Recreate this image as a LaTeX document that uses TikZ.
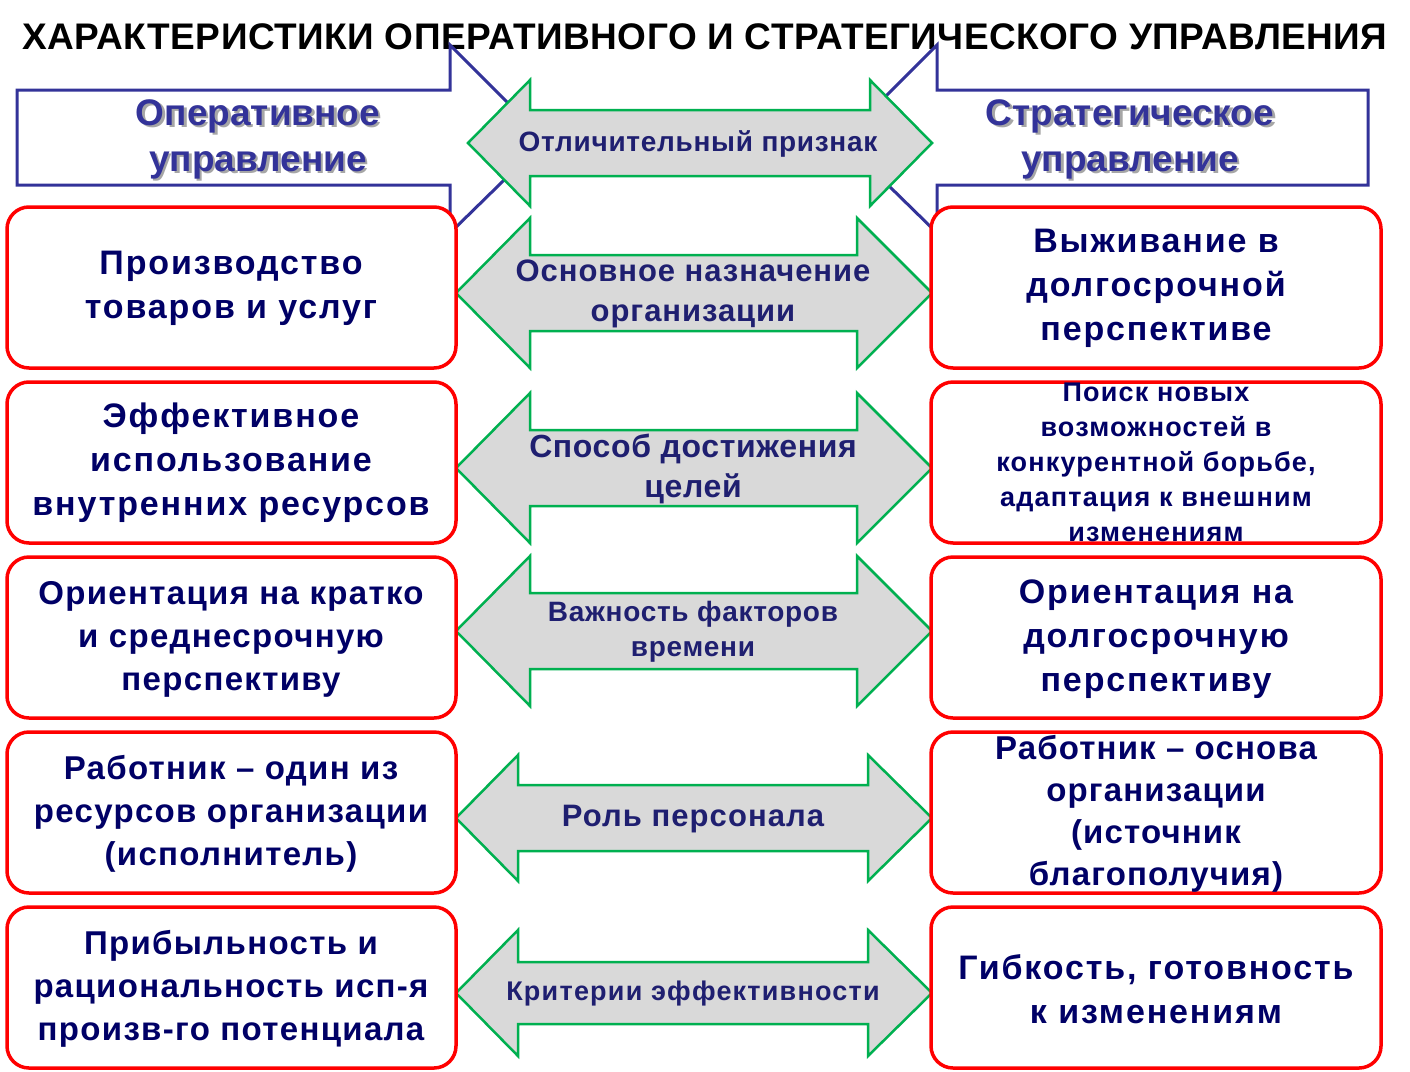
\documentclass[tikz,border=0pt]{standalone}
\usepackage{fontspec}
\setmainfont{Liberation Sans}
\definecolor{gr}{HTML}{00B050}
\definecolor{gf}{HTML}{D9D9D9}
\definecolor{bl}{HTML}{333399}
\definecolor{nv}{HTML}{000066}
\definecolor{tn}{HTML}{1F1F70}
\newcommand{\fs}[3]{\bfseries\fontsize{#1}{#2}\selectfont\addfontfeature{LetterSpace=#3}}
\tikzset{
 rbox/.style={draw=red,line width=3.5pt,rounded corners=22pt,fill=white},
 garr/.style={draw=gr,line width=2.5pt,fill=gf,line join=miter},
 barr/.style={draw=bl,line width=3pt,fill=white,line join=miter},
 btxt/.style={text=nv,font=\fs{34}{44}{5.5},align=center},
 stxt/.style={text=nv,font=\fs{27}{35}{4.5},align=center},
 gtxt/.style={text=tn,align=center},
 htxt/.style={text=bl,font=\bfseries\fontsize{37}{46}\selectfont,align=center}
}
\newcommand{\garrowx}[8]{% name, yc, hh, hb, xl, bl, br, xr
 \draw[garr] (#5,#2) -- (#6,#2-#3) -- (#6,#2-#4) -- (#7,#2-#4) -- (#7,#2-#3) -- (#8,#2)
  -- (#7,#2+#3) -- (#7,#2+#4) -- (#6,#2+#4) -- (#6,#2+#3) -- cycle;
 \coordinate (#1) at ({(#5+#8)/2},#2);}
\begin{document}
\begin{tikzpicture}[x=1pt,y=-1pt]
\useasboundingbox (0,0) rectangle (1410,1071);
\fill[white] (0,0) rectangle (1410,1071);
\node[font=\fs{37}{40}{1.2}] (title) at (705,37) {ХАРАКТЕРИСТИКИ ОПЕРАТИВНОГО И СТРАТЕГИЧЕСКОГО УПРАВЛЕНИЯ};
% blue arrows
\draw[barr] (17,90) -- (450,90) -- (450,45) -- (545,140) -- (450,233) -- (450,185) -- (17,185) -- cycle;
\draw[barr] (1368,90) -- (937,90) -- (937,45) -- (842,140) -- (937,233) -- (937,185) -- (1368,185) -- cycle;
\node[htxt,text=gray!70] at (260.5,141.5) {Оперативное\\управление};
\node[htxt] (hl) at (258,139) {Оперативное\\управление};
\node[htxt,text=gray!70] at (1132.5,141.5) {Стратегическое\\управление};
\node[htxt] (hr) at (1130,139) {Стратегическое\\управление};
% green arrows
\garrowx{g1}{143}{63}{33}{468}{530}{870}{932}
\garrowx{g2}{293}{75}{38}{456}{530}{857}{932}
\garrowx{g3}{468}{75}{38}{456}{530}{857}{932}
\garrowx{g4}{631}{75}{38}{456}{530}{857}{932}
\garrowx{g5}{818}{63}{33}{456}{518}{868}{932}
\garrowx{g6}{993}{63}{31}{456}{518}{868}{932}
% red boxes
\foreach \y [count=\i] in {207,382,557,732,907}{
 \draw[rbox] (7,\y) rectangle (456,\y+161);
 \draw[rbox] (931,\y) rectangle (1381,\y+161);
}
% texts
\node[gtxt,font=\fs{28}{35}{2.5}] (t1) at (698,144) {Отличительный признак};
\node[gtxt,font=\fs{31}{40}{3}] (t2) at (693,294) {Основное назначение\\организации};
\node[gtxt,font=\fs{32}{40}{2}] (t3) at (693,469) {Способ достижения\\целей};
\node[gtxt,font=\fs{28}{35}{2.5}] (t4) at (693,632) {Важность факторов\\времени};
\node[gtxt,font=\fs{31}{40}{3.5}] (t5) at (693,819) {Роль персонала};
\node[gtxt,font=\fs{27}{35}{4.5}] (t6) at (693,994) {Критерии эффективности};
\node[btxt] (a1) at (231,288) {Производство\\товаров и услуг};
\node[btxt] (a2) at (231,463) {Эффективное\\использование\\внутренних ресурсов};
\node[btxt,font=\fs{33}{43}{4}] (a3) at (231,639) {Ориентация на кратко\\и среднесрочную\\перспективу};
\node[btxt,font=\fs{33}{43}{4}] (a4) at (231,814) {Работник -- один из\\ресурсов организации\\(исполнитель)};
\node[btxt,font=\fs{33}{43}{4}] (a5) at (231,989) {Прибыльность и\\рациональность исп-я\\произв-го потенциала};
\node[btxt] (b1) at (1156,288) {Выживание в\\долгосрочной\\перспективе};
\node[stxt] (b2) at (1156,462) {Поиск новых\\возможностей в\\конкурентной борьбе,\\адаптация к внешним\\изменениям};
\node[btxt] (b3) at (1156,639) {Ориентация на\\долгосрочную\\перспективу};
\node[btxt,font=\fs{33}{42}{3.5}] (b4) at (1156,814) {Работник -- основа\\организации\\(источник\\благополучия)};
\node[btxt] (b5) at (1156,989) {Гибкость, готовность\\к изменениям};
\end{tikzpicture}
\end{document}
